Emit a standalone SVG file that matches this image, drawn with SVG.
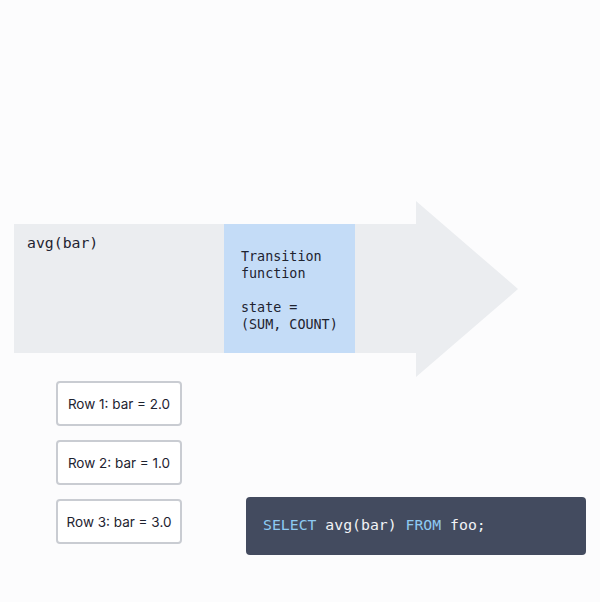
<svg xmlns="http://www.w3.org/2000/svg" width="600" height="602" viewBox="0 0 600 602">
<style>
.mono{font-family:"DejaVu Sans Mono","Liberation Mono",monospace;fill:#1e2330}
.row rect{fill:#ffffff;stroke:#c9ccd2;stroke-width:2}
.row text{font-family:Inter,"Liberation Sans",sans-serif;font-size:13.5px;fill:#1e2330;text-anchor:middle}
.kw{fill:#8ecaf2}
.code{font-family:"DejaVu Sans Mono","Liberation Mono",monospace;font-size:14.8px;fill:#f2f3f6}
</style>
<rect width="600" height="602" fill="#fcfcfd"/>
<g id="arrow">
<polygon points="14,224 416,224 416,201 518,289 416,377 416,353 14,353" fill="#ebedf0"/>
<text class="mono" x="27" y="248" font-size="14.8">avg(bar)</text>
</g>
<g id="transition">
<rect x="224" y="224" width="131" height="129" fill="#c4dcf7"/>
<text class="mono" font-size="13.4"><tspan x="241" y="261">Transition</tspan><tspan x="241" y="278">function</tspan><tspan x="241" y="312">state =</tspan><tspan x="241" y="329">(SUM, COUNT)</tspan></text>
</g>
<g id="row1" class="row"><rect x="57" y="382" width="124" height="43" rx="3"/><text x="119" y="409">Row 1: bar = 2.0</text></g>
<g id="row2" class="row"><rect x="57" y="441" width="124" height="43" rx="3"/><text x="119" y="468">Row 2: bar = 1.0</text></g>
<g id="row3" class="row"><rect x="57" y="500" width="124" height="43" rx="3"/><text x="119" y="527">Row 3: bar = 3.0</text></g>
<g id="query">
<rect x="246" y="497" width="340" height="58" rx="4" fill="#434b5f"/>
<text class="code" x="263" y="530"><tspan class="kw">SELECT</tspan> avg(bar) <tspan class="kw">FROM</tspan> foo;</text>
</g>
<g id="connectors"/>
</svg>
